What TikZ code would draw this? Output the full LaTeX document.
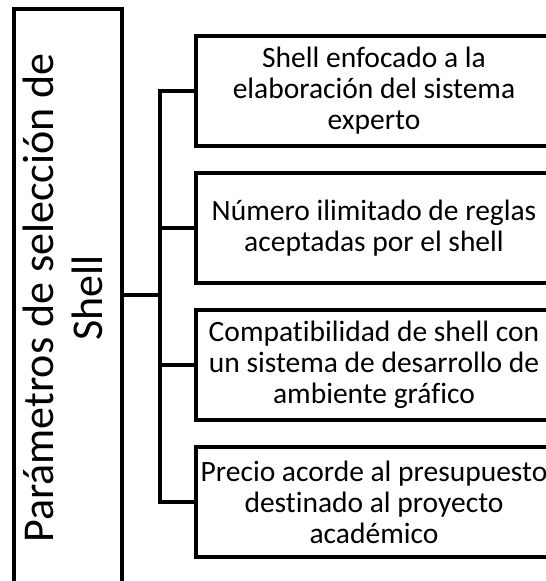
\documentclass[tikz,border=0pt]{standalone}
\usepackage{fontspec}
\setmainfont{Carlito}[Ligatures=NoCommon]
\begin{document}
\begin{tikzpicture}[x=1pt,y=-1pt,
  ln/.style={line width=4.5pt},
  itembox/.style={ln,draw,rectangle,minimum width=356pt,minimum height=110pt,inner sep=0pt,align=center,
    font=\fontsize{29.5}{31}\selectfont},
  rootbox/.style={ln,draw,rectangle,minimum width=108pt,minimum height=600pt,inner sep=0pt}]
\useasboundingbox (0,0) rectangle (546,581);
\clip (0,0) rectangle (546,581);
\node[rootbox] (root) at (68,309) {};
\node[rotate=90,align=center,inner sep=0pt,font=\fontsize{44}{49}\selectfont] (roottext) at (63,298) {Parámetros de selección de\\Shell};
\coordinate (hub) at (160,295);
\node[itembox] (b1) at (374,91) {Shell enfocado a la\\elaboración del sistema\\experto};
\node[itembox] (b2) at (374,228) {Número ilimitado de reglas\\aceptadas por el shell};
\node[itembox] (b3) at (374,365) {Compatibilidad de shell con\\un sistema de desarrollo de\\ambiente gráfico};
\node[itembox] (b4) at (374,502) {Precio acorde al presupuesto\\destinado al proyecto\\académico};
\draw[ln] (root.east |- hub) -- (hub);
\draw[ln] (b1.west) -- (b1.west -| hub) -- (b4.west -| hub) -- (b4.west);
\draw[ln] (b2.west) -- (b2.west -| hub);
\draw[ln] (b3.west) -- (b3.west -| hub);
\end{tikzpicture}
\end{document}
